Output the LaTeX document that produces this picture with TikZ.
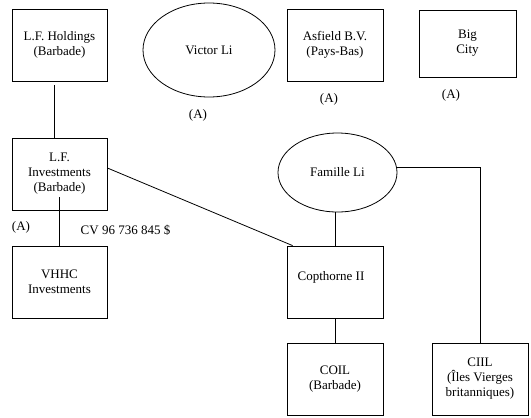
\documentclass[tikz,border=0pt]{standalone}
\usepackage{fontspec}
\setmainfont{Liberation Serif}
\usetikzlibrary{shapes.geometric}

\begin{document}
\begin{tikzpicture}[x=1pt,y=-1pt,line width=0.8pt,
    font=\fontsize{13}{15}\selectfont,
    box/.style={draw,minimum width=95pt,minimum height=72pt,align=center,inner sep=0pt},
    oval/.style={draw,ellipse,inner sep=0pt}]
  \useasboundingbox (0,0) rectangle (531,418);

  % top row
  \node[box] (lfh) at (59.5,45) {L.F. Holdings\\(Barbade)};
  \node[oval,minimum width=132pt,minimum height=94pt] (vli) at (209,50) {Victor Li};
  \node[box,minimum width=96pt] (asf) at (335,45) {Asfield B.V.\\(Pays-Bas)};
  \node[box,minimum width=97pt,minimum height=67pt] (big) at (467.5,43.5) {Big\\City};
  \node (avli) at (198,115) {(A)};
  \node (aasf) at (329,99) {(A)};
  \node (abig) at (451,95) {(A)};

  % middle and bottom
  \node[box] (lfi) at (59.5,174) {L.F.\\Investments\\(Barbade)};
  \node[box] (vhhc) at (59.5,282) {VHHC\\Investments};
  \node (alfi) at (21,227) {(A)};
  \node[anchor=west] (cv) at (77,230) {CV 96 736 845 \$};
  \node[oval,minimum width=119pt,minimum height=79pt] (fam) at (337.5,172.5) {Famille Li};
  \node[box,minimum width=96pt] (cop) at (335,282) {};
  \node (coptxt) at (331,277) {Copthorne II};
  \node[box,minimum width=96pt] (coil) at (335,379) {COIL\\(Barbade)};
  \node[box,minimum width=96pt] (ciil) at (480,379) {CIIL\\(Îles Vierges\\britanniques)};

  % links
  \draw ([xshift=-5.5pt,yshift=-4pt]lfh.south) -- ([xshift=-5.5pt]lfi.north);
  \draw ([yshift=13pt]lfi.south) -- (vhhc.north);
  \draw ([yshift=6pt]lfi.east) -- ([xshift=6pt]cop.north west);
  \draw (cop.north |- fam.south) -- (cop.north);
  \draw ([yshift=5pt]fam.east) -| (ciil.north);
  \draw (cop.south) -- (coil.north);
\end{tikzpicture}
\end{document}
